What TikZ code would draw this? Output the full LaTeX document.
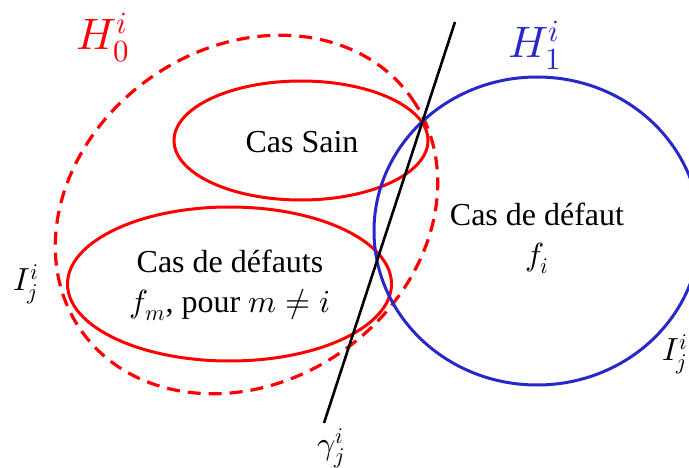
\documentclass[tikz,border=0pt]{standalone}
\usepackage{fontspec}
\usepackage{unicode-math}
\setmathfont{Latin Modern Math}
\setmainfont{Liberation Serif}
\usetikzlibrary{positioning}
\definecolor{hblue}{RGB}{40,40,200}

\begin{document}
\begin{tikzpicture}[x=1pt,y=-1pt,
  cas/.style={red, line width=3pt},
  hzero/.style={red, line width=3.2pt, dash pattern=on 13pt off 8pt},
  hone/.style={hblue, line width=3pt},
  txt/.style={font=\rmfamily\fontsize{32}{40}\selectfont, align=center, inner sep=0pt},
  lab/.style={font=\rmfamily\fontsize{32}{40}\selectfont, inner sep=0pt},
  big/.style={font=\rmfamily\fontsize{44}{50}\selectfont, inner sep=0pt}]
\useasboundingbox (0,0) rectangle (689,468);
\clip (0,0) rectangle (689,468);

\draw[hzero, rotate around={35:(246.5,214.5)}] (246.5,214.5) ellipse [x radius=202, y radius=167];
\draw[cas] (301,140.5) ellipse [x radius=127, y radius=59.5];
\draw[cas] (229.5,284) ellipse [x radius=162, y radius=77];
\draw[hone] (537,231) ellipse [x radius=163, y radius=154];

\coordinate (gtop) at (455,22);
\coordinate (gbot) at (324,423);
\draw[line width=2.6pt] (gtop) -- (gbot);

\node[txt] (sain) at (302,142) {Cas Sain};
\node[txt] (fm) at (230,285) {Cas de défauts\\\(f_m\), pour \(m \neq i\)};
\node[txt] (fi) at (537,238) {Cas de défaut\\\(f_i\)};

\node[big, red] (h0) at (103,38) {\(H_0^i\)};
\node[big, hblue] (h1) at (535,45) {\(H_1^i\)};
\node[lab] (ileft) at (26,284) {\(I_j^i\)};
\node[lab] (iright) at (675,354) {\(I_j^i\)};
\node[lab] (gam) at (331,448) {\(\gamma_j^i\)};
\end{tikzpicture}
\end{document}
